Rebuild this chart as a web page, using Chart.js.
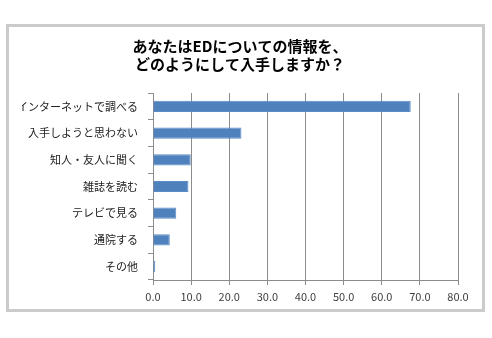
<!DOCTYPE html>
<html>
<head>
<meta charset="utf-8">
<script src="https://cdn.jsdelivr.net/npm/chart.js@4/dist/chart.umd.min.js"></script>
<style>
  html, body { margin: 0; padding: 0; background: #fff; }
  #wrap { position: relative; width: 492px; height: 338px; }
  #frame { position: absolute; left: 6px; top: 24px; width: 473px; height: 282px; border: 3px solid #cbcbcb; }
  canvas { position: absolute; left: 0; top: 0; }
</style>
</head>
<body>
<div id="wrap">
  <div id="frame"></div>
  <canvas id="chart" width="492" height="338"></canvas>
</div>
<script>
const titleLines = ["あなたはEDについての情報を、", "どのようにして入手しますか？"];
const categories = ["インターネットで調べる", "入手しようと思わない", "知人・友人に聞く", "雑誌を読む", "テレビで見る", "通院する", "その他"];
const percents = [67.6, 23.2, 9.9, 9.3, 6.1, 4.4, 0.6];
const xTicks = [0, 10, 20, 30, 40, 50, 60, 70, 80];

const jpFont = "'Noto Sans CJK JP', 'Noto Sans', sans-serif";

const ctx = document.getElementById("chart").getContext("2d");
const chart = new Chart(ctx, {
  type: "bar",
  data: {
    labels: categories,
    datasets: [{
      data: percents,
      backgroundColor: "#4f81bd",
      borderColor: "#5b8cc6",
      borderWidth: 1,
      barPercentage: 0.42,
      categoryPercentage: 1.0
    }]
  },
  options: {
    indexAxis: "y",
    responsive: false,
    animation: false,
    layout: {
      // left padding only shifts the title centre; y axis width makes up the rest
      padding: {left: 22, right: 34, top: 0, bottom: 28}
    },
    scales: {
      x: {
        min: 0,
        max: 80,
        afterBuildTicks: (scale) => {
          scale.ticks = xTicks.map((v) => ({value: v}));
        },
        afterFit: (scale) => {
          scale.height = 30;
        },
        ticks: {
          callback: (v) => Number(v).toFixed(1),
          color: "#404040",
          font: {family: jpFont, size: 11},
          padding: 5,
          maxRotation: 0
        },
        grid: {
          color: "#8c8c8c",
          lineWidth: 1,
          drawTicks: true,
          tickLength: 5
        },
        border: {color: "#8c8c8c"}
      },
      y: {
        afterFit: (scale) => {
          scale.width = 131;
        },
        ticks: {
          color: "#222",
          font: {family: jpFont, size: 11},
          padding: 10
        },
        grid: {
          drawOnChartArea: false,
          drawTicks: true,
          tickLength: 5,
          color: "#8c8c8c"
        },
        border: {color: "#8c8c8c"}
      }
    },
    plugins: {
      legend: {display: false},
      tooltip: {enabled: false},
      title: {
        display: true,
        text: titleLines,
        color: "#000",
        font: {family: jpFont, size: 15, weight: "bold", lineHeight: 1.2},
        padding: {top: 37, bottom: 20}
      }
    }
  }
});
</script>
</body>
</html>
